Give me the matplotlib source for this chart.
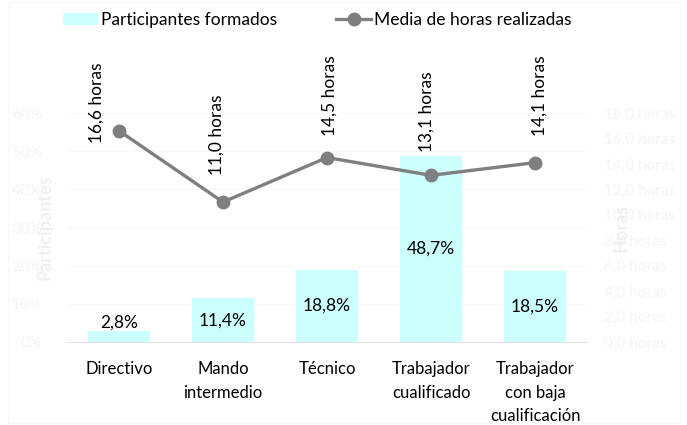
import matplotlib.pyplot as plt
from matplotlib.patches import Rectangle

plt.rcParams['font.family'] = ['Lato', 'DejaVu Sans']

categorias = ['Directivo', 'Mando\nintermedio', 'Técnico', 'Trabajador\ncualificado',
              'Trabajador\ncon baja\ncualificación']
participantes = [2.8, 11.4, 18.8, 48.7, 18.5]      # % participantes formados
horas = [16.6, 11.0, 14.5, 13.1, 14.1]            # media de horas realizadas
pct_ticks = [0, 10, 20, 30, 40, 50, 60]
horas_ticks = [0, 2, 4, 6, 8, 10, 12, 14, 16, 18]

# offsets (px) of the rotated hour labels relative to each point
label_off = [(-22, 28), (-6, 67), (3, 62), (-4, 64), (5, 67)]

BAR = '#ccffff'
LINE = '#7f7f7f'
FAINT = '#f4f4f4'
DPI = 100

fig = plt.figure(figsize=(6.87, 4.25), dpi=DPI)
fig.patches.append(Rectangle((0.012, 0.005), 0.978, 0.99, transform=fig.transFigure,
                             fill=False, edgecolor='#f8f8f8', lw=0.8))
ax = fig.add_axes([0.0975, 0.1953, 0.757, 0.5388])
ax2 = ax.twinx()

x = list(range(len(categorias)))
ax.bar(x, participantes, width=0.6, color=BAR, zorder=2, label='Participantes formados')
for xi, v in zip(x, participantes):
    ax.text(xi, max(v / 2, 5), f'{v:.1f}%'.replace('.', ','), ha='center', va='center',
            fontsize=12.5, color='black', zorder=5)

ax.set_ylim(0, 60)
ax.set_xlim(-0.5, len(categorias) - 0.5)
ax.set_yticks(pct_ticks)
ax.set_yticklabels([f'{t}%' for t in pct_ticks], fontsize=11, color=FAINT)
ax.set_xticks(x)
ax.set_xticklabels(categorias, fontsize=12, linespacing=1.55, va='top')
ax.tick_params(axis='x', length=0, pad=14)
ax.tick_params(axis='y', length=0, pad=18)
ax.grid(axis='y', color='#f8f8f8', lw=0.8, zorder=0)
ax.set_axisbelow(True)
for s in ['top', 'right', 'left']:
    ax.spines[s].set_visible(False)
ax.spines['bottom'].set_color('#e0e0e0')
ax.set_ylabel('Participantes', fontsize=13, color='#f0f0f0', fontweight='bold', labelpad=-30)

ax2.plot(x, horas, color=LINE, lw=2.4, marker='o', markersize=9, zorder=4,
         label='Media de horas realizadas')
for xi, h, (dx, dy) in zip(x, horas, label_off):
    ax2.annotate(f'{h:.1f} horas'.replace('.', ','), (xi, h),
                 xytext=(dx * 72 / DPI, dy * 72 / DPI), textcoords='offset points',
                 rotation=90, ha='center', va='center', fontsize=12.5, annotation_clip=False)
ax2.set_ylim(0, 18)
ax2.set_yticks(horas_ticks)
ax2.set_yticklabels([f'{t:.1f} horas'.replace('.', ',') for t in horas_ticks],
                    fontsize=11, color=FAINT)
ax2.tick_params(axis='y', length=0, pad=12)
for s in ax2.spines.values():
    s.set_visible(False)
ax2.set_ylabel('Horas', fontsize=13, color='#f0f0f0', fontweight='bold', labelpad=-45)

h1, l1 = ax.get_legend_handles_labels()
h2, l2 = ax2.get_legend_handles_labels()
fig.legend(h1 + h2, l1 + l2, loc='center', bbox_to_anchor=(0.462, 0.953), ncol=2,
           frameon=False, fontsize=12.5, handlelength=2.0, columnspacing=3.4, handletextpad=0.2)

fig.savefig('out.png', dpi=DPI)
